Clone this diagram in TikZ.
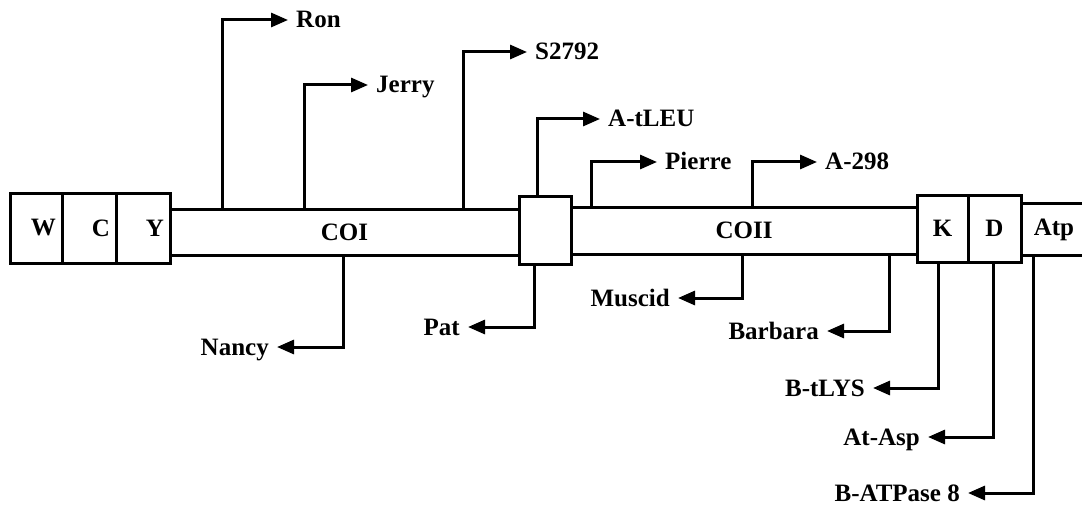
\documentclass[tikz,border=0pt]{standalone}
\usepackage{fontspec}
\setmainfont{Liberation Serif}
\usetikzlibrary{arrows.meta, positioning}

\begin{document}
\begin{tikzpicture}[
    x=1pt, y=-1pt,
    every node/.style={font=\fontsize{25}{28}\selectfont\bfseries},
    gene/.style={draw, line width=3pt, fill=white, inner sep=0pt},
    tag/.style={gene, inner xsep=6pt, text width=#1, align=right, minimum height=70pt},
    lbl/.style={inner xsep=8pt, inner ysep=0pt, text height=16pt, text depth=0pt},
    arr/.style={-{Triangle[length=17pt, width=14pt]}, line width=3pt}
]
    \useasboundingbox (0,0) rectangle (1082,508);

    % genes along the strand
    \node[gene, minimum width=349pt, minimum height=46pt] (coi) at (344.5,232) {COI};
    \node[gene, minimum width=346pt, minimum height=47pt] (coii) at (744,230.5) {COII};
    \node[tag=40pt] (w) at (36,228) {W};
    \node[tag=42pt] (c) at (89,228) {C};
    \node[tag=42pt] (y) at (143,228) {Y};
    \node[gene, minimum width=52pt, minimum height=68pt] (sq) at (545,230) {};
    \node[gene, minimum width=51pt, minimum height=67pt] (k) at (942.5,228.5) {K};
    \node[gene, minimum width=53pt, minimum height=67pt] (d) at (994.5,228.5) {D};
    \node[inner sep=0pt, minimum width=66pt, minimum height=51pt] (atp) at (1054,229.5) {Atp};
    \draw[line width=3pt] (atp.north west) -- ++(70,0) (atp.south west) -- ++(70,0);

    % primers above
    \node[lbl, anchor=west] (ron) at (288,20) {Ron};
    \node[lbl, anchor=west] (jerry) at (368,85) {Jerry};
    \node[lbl, anchor=west] (s2792) at (527,52) {S2792};
    \node[lbl, anchor=west] (atleu) at (600,119) {A-tLEU};
    \node[lbl, anchor=west] (pierre) at (657,162) {Pierre};
    \node[lbl, anchor=west] (a298) at (817,162) {A-298};

    \draw[arr] (coi.north -| 222,0) |- (ron.west);
    \draw[arr] (coi.north -| 304,0) |- (jerry.west);
    \draw[arr] (coi.north -| 463,0) |- (s2792.west);
    \draw[arr] (sq.north -| 537,0) |- (atleu.west);
    \draw[arr] (coii.north -| 591,0) |- (pierre.west);
    \draw[arr] (coii.north -| 752,0) |- (a298.west);

    % primers below
    \node[lbl, anchor=east] (nancy) at (277,347) {Nancy};
    \node[lbl, anchor=east] (pat) at (468,327) {Pat};
    \node[lbl, anchor=east] (muscid) at (678,298) {Muscid};
    \node[lbl, anchor=east] (barbara) at (827,331) {Barbara};
    \node[lbl, anchor=east] (btlys) at (873,388) {B-tLYS};
    \node[lbl, anchor=east] (atasp) at (928,437) {At-Asp};
    \node[lbl, anchor=east] (batp) at (968,493) {B-ATPase 8};

    \draw[arr] (coi.south -| 343,0) |- (nancy.east);
    \draw[arr] (sq.south -| 534,0) |- (pat.east);
    \draw[arr] (coii.south -| 742,0) |- (muscid.east);
    \draw[arr] (coii.south -| 889,0) |- (barbara.east);
    \draw[arr] (k.south -| 938,0) |- (btlys.east);
    \draw[arr] (d.south -| 993,0) |- (atasp.east);
    \draw[arr] (atp.south -| 1033,0) |- (batp.east);
\end{tikzpicture}
\end{document}
